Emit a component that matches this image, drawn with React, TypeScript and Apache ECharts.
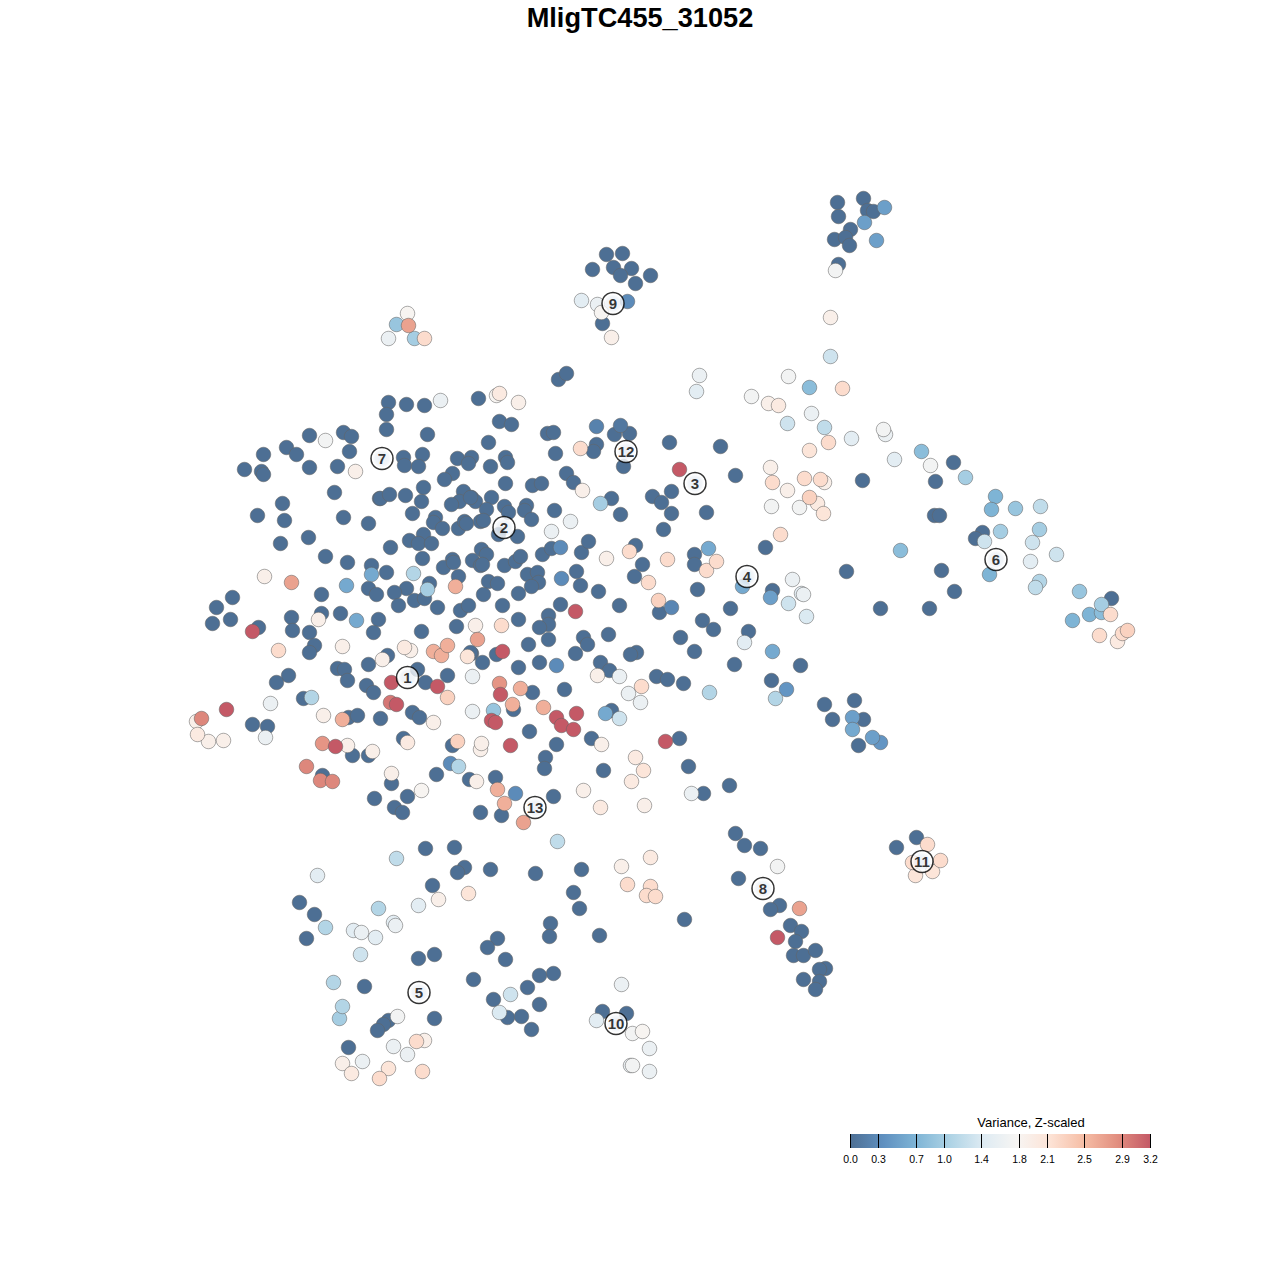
import React, { useEffect, useRef } from "react";
import * as echarts from "echarts";

const titleText = "MligTC455_31052";
const legendTitle = "Variance, Z-scaled";
const legendTicks = ["0.0", "0.3", "0.7", "1.0", "1.4", "1.8", "2.1", "2.5", "2.9", "3.2"];
const legendTickX = [850, 878, 916, 944, 981, 1019, 1047, 1084, 1122, 1150];
const palette = ["#4d6f94", "#5f90c0", "#7fb5d6", "#aed3e5", "#deebf3", "#f7f5f3", "#fde3d6", "#f6bea6", "#e28f80", "#c45966"];

const clusterLabels: [number, number, string][] = [
  [407, 677, "1"], [503.5, 527, "2"], [694.5, 483, "3"], [746.5, 576, "4"], [418.5, 992, "5"], [995.5, 559, "6"], [381.5, 458, "7"],
  [762.5, 888, "8"], [612.5, 303, "9"], [615.5, 1023, "10"], [921.5, 861, "11"], [625.5, 451, "12"], [534.5, 807, "13"],
];

const lowTopGroups: number[][] = [
  [863,198],[837,202],[867,210],[873,211],[838,216],[850,229],[834,239],[845,237],[849,245],[838,264],
  [606,254],[622,253],[613,267],[631,268],[592,269],[620,275],[650,275],[635,283],[602,323],[558,379],[566,373],
];
const lowUpperLeft: number[][] = [
  [388,402],[406,404],[424,405],[386,414],[386,429],[427,434],[309,435],[343,432],[351,436],[349,451],[286,447],[296,454],
  [263,454],[244,469],[261,471],[263,474],[309,467],[337,466],[403,457],[404,465],[422,454],[418,466],[457,458],[471,457],
  [468,463],[452,473],[444,479],[334,492],[379,498],[380,498],[389,494],[405,495],[423,487],[421,501],[463,491],[471,497],
  [459,501],[451,504],[475,501],[282,503],[257,515],[284,520],[343,517],[368,523],[412,513],[435,517],[433,522],[442,528],
  [458,528],[464,521],[466,523],[480,521],[280,543],[308,537],[390,547],[409,540],[423,534],[418,543],[431,543],[422,558],
  [325,556],[347,562],[371,565],[386,572],[452,559],[443,567],[453,562],[472,560],[480,565],[458,576],[429,583],[406,588],
  [394,592],[368,588],[376,594],[321,594],[232,597],[216,607],[212,623],[230,619],[291,617],[321,613],[340,613],[378,619],
  [373,632],[398,605],[414,600],[424,598],[437,607],[460,610],[468,605],[456,626],[421,631],[258,627],[292,630],[309,632],
  [314,645],[309,652],[387,655],[471,653],[368,664],[337,668],[344,669],[347,680],[288,675],[276,682],[417,669],[447,675],
];
const lowUpperCentre: number[][] = [
  [478,398],[499,421],[511,424],[488,442],[547,433],[553,432],[614,434],[629,433],[596,444],[593,451],[555,453],[623,466],
  [669,442],[490,466],[505,457],[507,462],[566,473],[573,482],[505,483],[532,485],[541,483],[470,497],[491,497],[486,509],
  [504,506],[508,512],[526,505],[524,510],[531,519],[554,510],[611,498],[620,514],[652,496],[661,502],[671,491],[671,513],
  [663,529],[483,520],[498,534],[517,536],[481,549],[486,554],[482,564],[504,565],[515,561],[520,556],[542,554],[551,548],
  [581,552],[588,541],[635,545],[642,564],[694,554],[694,564],[634,576],[576,571],[527,574],[537,572],[538,582],[531,586],
  [488,581],[497,583],[483,594],[518,593],[580,585],[598,591],[502,605],[560,604],[619,605],[659,612],[697,589],[702,620],
  [518,619],[548,615],[548,624],[539,627],[548,639],[528,644],[583,637],[587,644],[575,653],[608,634],[680,637],[694,651],
  [636,652],[630,654],[600,662],[609,670],[656,676],[667,679],[683,683],[496,654],[482,662],[470,652],[518,667],[539,662],
];
const lowLowerCentre: number[][] = [
  [252,724],[267,726],[303,698],[348,717],[357,715],[380,718],[366,685],[373,692],[412,712],[419,717],[425,682],
  [352,755],[368,755],[403,738],[322,775],[391,783],[436,774],[407,796],[374,798],[394,807],[402,812],[452,745],[469,779],
  [480,812],[532,692],[564,689],[513,709],[529,731],[611,710],[591,738],[679,738],[556,744],[545,757],[544,768],[603,770],
  [688,766],[729,785],[703,793],[553,796],[495,777],[501,815],[734,664],
];
const lowRight: number[][] = [
  [953,462],[935,481],[862,480],[735,475],[720,446],[706,512],[934,515],[939,515],[982,532],[975,538],[941,570],[954,591],
  [929,608],[880,608],[846,571],[765,547],[1111,598],[772,590],[730,608],[713,629],[748,631],[800,665],[771,680],[824,704],
  [854,700],[832,719],[863,719],[858,745],[916,837],[896,847],
];
const lowBottom: number[][] = [
  [735,833],[744,845],[760,848],[738,878],[779,905],[770,909],[790,925],[801,931],[795,941],[793,955],[803,955],[815,950],
  [825,968],[819,969],[819,981],[803,979],[815,989],[684,919],[581,869],[573,892],[579,908],[599,935],[550,923],[549,936],
  [535,873],[490,869],[464,867],[457,872],[454,847],[425,848],[432,885],[299,902],[314,914],[306,938],[418,958],[434,954],
  [497,938],[487,947],[505,959],[473,979],[553,973],[539,975],[527,987],[364,986],[493,999],[539,1004],[507,1017],[521,1016],
  [531,1029],[602,1011],[626,1013],[434,1018],[388,1020],[383,1024],[377,1030],[348,1047],
];

const variedTop: number[][] = [
  [884,207,0.5],[864,222,0.5],[876,240,0.5],[835,270,1.7],[627,301,0.3],[581,300,1.5],[597,304,1.6],[601,312,1.8],[611,337,1.9],
  [407,313,1.8],[396,324,0.9],[408,325,2.7],[388,338,1.6],[414,338,1.0],[424,338,2.2],[440,400,1.6],[496,395,1.8],[499,393,2.0],[518,402,1.9],
  [325,440,1.7],[355,471,1.9],[596,426,0.2],[620,425,0.1],[580,448,2.2],[679,469,3.2],[582,490,1.9],[600,503,1.0],[570,521,1.6],[551,531,1.6],
];
const variedCentre: number[][] = [
  [371,574,0.6],[413,573,1.1],[455,586,2.6],[427,589,1.0],[346,585,0.6],[291,582,2.7],[264,576,1.9],[318,619,1.9],[356,620,0.6],
  [252,631,3.2],[278,650,2.2],[342,646,1.9],[382,659,1.9],[404,647,2.0],[410,650,1.9],[433,651,2.6],[441,655,2.6],[447,645,2.6],
  [467,656,2.1],[475,625,1.9],[477,639,2.7],[472,676,1.6],[560,547,0.3],[606,558,1.9],[629,551,2.2],[667,559,2.2],[648,582,2.2],
  [561,578,0.3],[658,600,2.3],[671,607,0.25],[575,611,3.2],[501,625,2.2],[502,651,3.2],[556,665,0.3],[597,675,1.9],[619,676,1.6],
];
const variedLower: number[][] = [
  [201,718,2.9],[196,721,1.9],[226,709,3.2],[197,734,2.0],[208,741,1.9],[223,740,1.9],[265,737,1.6],[270,703,1.6],[311,697,1.1],[323,715,1.9],
  [342,719,2.6],[391,682,3.2],[390,702,3.0],[396,704,3.2],[433,722,1.9],[437,686,3.2],[447,697,2.3],[322,743,2.8],[335,746,3.2],[347,745,1.9],
  [372,751,1.9],[407,742,2.0],[306,766,2.9],[320,780,2.9],[332,781,2.9],[391,773,1.9],[450,763,0.3],[458,766,1.1],[421,790,1.8],[457,741,2.3],
  [476,781,1.9],[480,749,1.9],[481,743,1.9],[709,692,1.1],[641,686,2.2],[628,693,1.6],[640,702,1.6],[499,683,2.8],[520,688,2.6],[500,694,3.2],
  [512,704,2.6],[493,710,0.9],[472,711,1.6],[543,707,2.6],[556,717,3.2],[576,713,3.2],[561,725,3.2],[573,729,3.2],[491,720,3.2],[495,722,3.2],
  [605,713,0.6],[619,718,1.3],[601,744,1.9],[665,741,3.2],[510,745,3.2],[635,757,2.0],[643,770,2.1],[631,781,2.0],[691,793,1.6],[644,805,1.9],
  [600,807,2.0],[583,790,1.9],[515,793,0.3],[497,789,2.6],[504,803,2.6],[523,822,2.7],[557,841,1.2],
];
const variedRight: number[][] = [
  [699,375,1.6],[696,391,1.5],[751,396,1.7],[788,376,1.7],[768,403,1.9],[778,405,2.0],[809,387,0.8],[842,388,2.2],[830,356,1.3],[830,317,1.9],
  [811,413,1.6],[787,423,1.3],[824,427,1.2],[828,442,2.2],[851,438,1.5],[809,450,2.1],[883,429,1.7],[885,434,1.6],[894,459,1.5],[921,451,0.8],
  [930,465,1.7],[965,477,1.0],[770,467,1.9],[772,482,2.2],[787,490,1.9],[804,478,2.2],[820,479,2.2],[824,482,1.9],[809,497,2.3],[771,506,1.7],
  [799,507,1.7],[817,503,2.0],[823,513,2.1],[780,534,2.2],[995,496,0.7],[991,509,0.7],[1015,508,0.9],[1040,506,1.2],[1039,529,1.0],[984,541,1.3],
  [1000,531,1.0],[1032,542,1.3],[1056,554,1.3],[1030,561,1.5],[900,550,0.8],[989,574,0.7],[1039,581,1.1],[1035,587,1.2],[1079,591,0.9],[1101,604,1.0],
  [1089,614,0.7],[1072,620,0.7],[1101,612,0.8],[1110,614,2.2],[1099,635,2.2],[1127,630,2.3],[1122,633,2.2],[1117,641,2.0],[708,548,0.6],[706,570,2.2],
  [716,561,2.2],[742,586,0.6],[792,579,1.6],[770,597,0.5],[788,603,1.3],[801,593,1.5],[803,594,1.6],[806,616,1.4],[744,642,1.5],[772,651,0.6],
  [786,689,0.4],[775,698,1.1],[852,717,0.5],[852,729,0.6],[872,737,0.5],[880,742,0.4],[927,844,2.2],[912,862,2.2],[940,860,2.2],[932,871,2.1],[915,875,2.1],
];
const variedBottom: number[][] = [
  [777,866,1.7],[799,908,2.7],[777,937,3.2],[621,866,1.9],[650,857,2.0],[627,884,2.2],[650,886,2.2],[646,895,2.2],[655,896,2.2],[396,858,1.2],
  [468,893,2.1],[438,899,1.9],[418,905,1.5],[317,875,1.5],[325,927,1.1],[378,908,1.1],[393,922,1.5],[395,925,1.6],[353,930,1.5],[361,932,1.6],
  [375,937,1.5],[360,954,1.3],[333,982,1.1],[342,1006,1.1],[339,1018,1.0],[510,994,1.3],[499,1012,1.4],[621,984,1.6],[596,1020,1.5],[632,1033,1.7],
  [642,1031,1.8],[649,1048,1.6],[630,1065,1.6],[632,1065,1.7],[649,1071,1.6],[397,1016,1.7],[393,1046,1.6],[416,1041,2.2],[424,1040,1.9],[407,1054,1.6],
  [342,1063,1.9],[362,1061,1.6],[351,1073,2.0],[388,1068,2.1],[379,1078,2.2],[422,1071,2.2],
];

const lowPoints = [...lowTopGroups, ...lowUpperLeft, ...lowUpperCentre, ...lowLowerCentre, ...lowRight, ...lowBottom].map((p) => [p[0], p[1], 0]);
const allPoints = [...lowPoints, ...variedTop, ...variedCentre, ...variedLower, ...variedRight, ...variedBottom].sort((a, b) => a[2] - b[2]);

export default function App() {
  const ref = useRef<HTMLDivElement>(null);
  useEffect(() => {
    document.body.style.margin = "0";
    const chart = echarts.init(ref.current!, undefined, { renderer: "svg" });
    const font = '"Liberation Sans", Arial, sans-serif';
    const y0 = 1134;
    const y1 = 1148;
    const x0 = legendTickX[0];
    const xN = legendTickX[legendTickX.length - 1];
    chart.setOption({
      animation: false,
      backgroundColor: "#ffffff",
      title: {
        text: titleText,
        left: "center",
        top: -1,
        textStyle: { fontFamily: font, fontSize: 27.2, fontWeight: "bold", color: "#000" },
      },
      grid: { left: 0, right: 0, top: 0, bottom: 0 },
      xAxis: { type: "value", min: -0.5, max: 1279.5, show: false },
      yAxis: { type: "value", min: -0.5, max: 1279.5, inverse: true, show: false },
      visualMap: {
        show: false,
        type: "continuous",
        seriesIndex: 0,
        dimension: 2,
        min: 0,
        max: 3.2,
        inRange: { color: palette },
      },
      series: [
        {
          type: "scatter",
          data: allPoints,
          symbol: "circle",
          symbolSize: 14.5,
          itemStyle: { opacity: 1, borderColor: "rgba(100,100,100,0.55)", borderWidth: 1 },
          silent: true,
        },
        {
          type: "scatter",
          data: clusterLabels.map((l) => ({ value: [l[0], l[1]], name: l[2] })),
          symbol: "circle",
          symbolSize: 22,
          z: 5,
          itemStyle: {
            color: new echarts.graphic.RadialGradient(0.5, 0.5, 0.5, [
              { offset: 0, color: "#e6ecf4" },
              { offset: 0.6, color: "#eef2f7" },
              { offset: 0.85, color: "#ffffff" },
              { offset: 1, color: "#ffffff" },
            ]),
            borderColor: "#000000",
            borderWidth: 1.5,
          },
          label: {
            show: true,
            position: "inside",
            formatter: (p: any) => p.name,
            fontFamily: font,
            fontSize: 15,
            fontWeight: "bold",
            color: "#000000",
            textBorderWidth: 0,
          },
          silent: true,
        },
      ],
      graphic: [
        {
          type: "rect",
          shape: { x: x0, y: y0, width: xN - x0, height: y1 - y0 },
          style: {
            fill: new echarts.graphic.LinearGradient(
              0, 0, 1, 0,
              palette.map((c, i) => ({ offset: i / (palette.length - 1), color: c }))
            ),
          },
        },
        ...legendTickX.map((x) => ({
          type: "line",
          shape: { x1: x + 0.5, y1: y0, x2: x + 0.5, y2: y1 },
          style: { stroke: "#000", lineWidth: 1 },
        })),
        ...legendTickX.map((x, i) => ({
          type: "text",
          x: x + 0.5,
          y: 1159,
          style: { text: legendTicks[i], fontFamily: font, fontSize: 10.5, fill: "#000", align: "center", verticalAlign: "middle" },
        })),
        {
          type: "text",
          x: 1031,
          y: 1122,
          style: { text: legendTitle, fontFamily: font, fontSize: 13, fill: "#000", align: "center", verticalAlign: "middle" },
        },
      ],
    });
    return () => chart.dispose();
  }, []);
  return <div ref={ref} style={{ width: 1280, height: 1280 }} />;
}
